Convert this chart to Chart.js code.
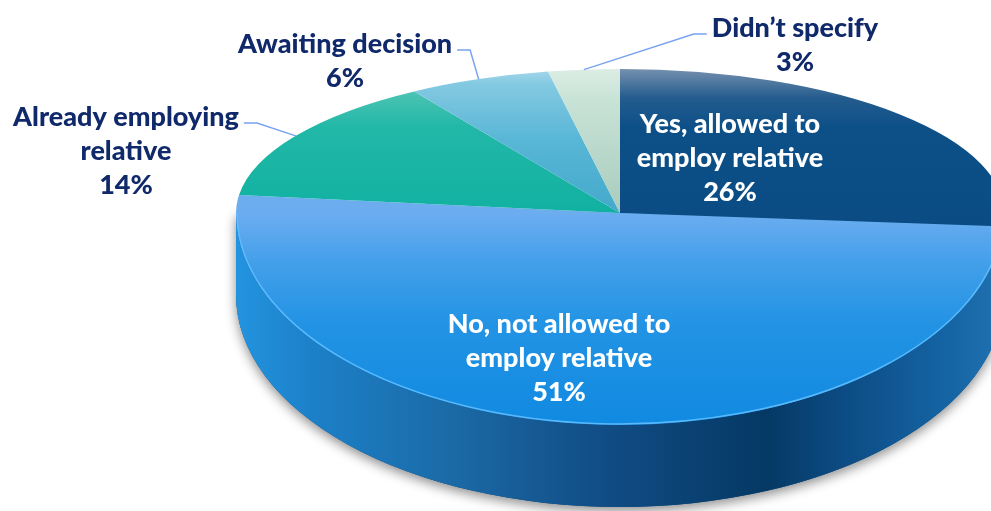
<!DOCTYPE html>
<html>
<head>
<meta charset="utf-8">
<script src="https://cdn.jsdelivr.net/npm/chart.js@4.4.1/dist/chart.umd.min.js"></script>
<style>
  html, body { margin: 0; padding: 0; background: #fff; }
  #wrap { width: 991px; height: 511px; }
</style>
</head>
<body>
<div id="wrap"><canvas id="relativePie" width="991" height="511"></canvas></div>
<script>
// survey answers, clockwise from 12 o'clock
const categories = [
  ["Yes, allowed to", "employ relative"],
  ["No, not allowed to", "employ relative"],
  ["Already employing", "relative"],
  ["Awaiting decision"],
  ["Didn\u2019t specify"]
];
const shares = [26, 51, 14, 6, 3];
const percentLabels = shares.map(v => v + "%");

// top face shading per slice (0 = far rim, 0.5 = hub, 1 = near rim)
const faceStops = [
  [[0, "#7590ae"], [0.1, "#245c8e"], [0.2, "#0d5088"], [0.5, "#0a4c83"], [1, "#03457a"]],
  [[0, "#6aa9ec"], [0.5, "#6cadf0"], [0.62, "#429fea"], [0.76, "#2393e4"], [1, "#108ae1"]],
  [[0, "#8fd6c9"], [0.08, "#4cc3b3"], [0.2, "#22b8a8"], [0.5, "#11b1a1"], [1, "#11b1a1"]],
  [[0, "#a9d8ea"], [0.05, "#84c9e2"], [0.25, "#58b6d6"], [0.5, "#44a9cb"], [1, "#44a9cb"]],
  [[0, "#dbede4"], [0.1, "#c9e3d7"], [0.5, "#a7ccbd"], [1, "#a7ccbd"]]
];
// wall shading, left to right across the pie
const sideStops = [
  [[0, "#0a4578"], [1, "#05385f"]],
  [[0, "#2394e0"], [0.1, "#1c80c8"], [0.28, "#1b6aa6"], [0.48, "#114c85"], [0.69, "#053964"], [0.8, "#0d4d86"], [0.93, "#1565a5"], [1, "#2272b2"]],
  [[0, "#0c8c80"], [1, "#0c8c80"]],
  [[0, "#2f86a6"], [1, "#2f86a6"]],
  [[0, "#86ab9c"], [1, "#86ab9c"]]
];

// tilted-disc geometry on the page
const PIE = { cx: 620, cy: 213, rx: 384, ryBack: 144, ryFront: 212, depth: 82 };

// text block centres
const labelPlace = [
  { inside: true, x: 730, y: 158 },
  { inside: true, x: 559, y: 358 },
  { inside: false, x: 126, y: 151 },
  { inside: false, x: 345, y: 61 },
  { inside: false, x: 795, y: 45 }
];
const LINE = 34;
const FONT = "900 27px Lato";

function faceFill(c) {
  const chart = c.chart;
  const area = chart.chartArea;
  if (!area) return faceStops[c.dataIndex][2][1];
  const r = Math.min(area.right - area.left, area.bottom - area.top) / 2;
  const cy = (area.top + area.bottom) / 2;
  const g = chart.ctx.createLinearGradient(0, cy - r, 0, cy + r);
  faceStops[c.dataIndex].forEach(([t, col]) => g.addColorStop(t, col));
  return g;
}

function rimPoint(a) {
  const s = Math.sin(a);
  const ry = s < 0 ? PIE.ryBack : PIE.ryFront;
  return { x: PIE.cx + PIE.rx * Math.cos(a), y: PIE.cy + ry * s };
}

function drawSide(ctx, arcs) {
  const { cx, cy, rx, ryFront: ry, depth } = PIE;

  ctx.save();
  ctx.shadowColor = "rgba(0,0,0,0.45)";
  ctx.shadowBlur = 12;
  ctx.shadowOffsetY = 4;
  ctx.beginPath();
  ctx.ellipse(cx, cy + depth, rx, ry, 0, 0, Math.PI);
  ctx.lineTo(cx - rx, cy);
  ctx.lineTo(cx + rx, cy);
  ctx.closePath();
  ctx.fillStyle = "#0b4a80";
  ctx.fill();
  ctx.restore();

  arcs.forEach((arc, i) => {
    [-2 * Math.PI, 0, 2 * Math.PI].forEach(shift => {
      const lo = Math.max(arc.startAngle + shift, 0);
      const hi = Math.min(arc.endAngle + shift, Math.PI);
      if (hi <= lo) return;
      const g = ctx.createLinearGradient(cx - rx, 0, cx + rx, 0);
      sideStops[i].forEach(([t, col]) => g.addColorStop(t, col));
      ctx.beginPath();
      ctx.ellipse(cx, cy, rx, ry, 0, lo, hi);
      ctx.lineTo(cx + rx * Math.cos(hi), cy + depth + ry * Math.sin(hi));
      ctx.ellipse(cx, cy + depth, rx, ry, 0, hi, lo, true);
      ctx.closePath();
      ctx.fillStyle = g;
      ctx.fill();
    });
  });
}

const pie3d = {
  id: "pie3d",
  beforeDatasetsDraw(chart) {
    const ctx = chart.ctx;
    const arcs = chart.getDatasetMeta(0).data;
    const { x, y, outerRadius: R } = arcs[0];

    drawSide(ctx, arcs);

    // top face: far half flatter than near half
    [[0, PIE.cy + 0.5, PIE.ryBack], [PIE.cy - 0.5, chart.height, PIE.ryFront]].forEach(([y0, y1, ry]) => {
      ctx.save();
      ctx.beginPath();
      ctx.rect(0, y0, chart.width, y1 - y0);
      ctx.clip();
      ctx.translate(PIE.cx, PIE.cy);
      ctx.scale(PIE.rx / R, ry / R);
      ctx.translate(-x, -y);
      arcs.forEach(a => a.draw(ctx));
      ctx.restore();
    });

    // light edge along the front rim
    ctx.save();
    ctx.beginPath();
    ctx.ellipse(PIE.cx, PIE.cy, PIE.rx - 1, PIE.ryFront - 1, 0, 0.05, Math.PI);
    ctx.strokeStyle = "rgba(95,190,255,0.9)";
    ctx.lineWidth = 1.5;
    ctx.stroke();
    ctx.restore();
    return false;
  },
  afterDraw(chart) {
    const ctx = chart.ctx;
    const arcs = chart.getDatasetMeta(0).data;
    ctx.save();
    ctx.font = FONT;
    ctx.textAlign = "center";
    ctx.textBaseline = "middle";
    arcs.forEach((arc, i) => {
      const p = labelPlace[i];
      const lines = [...categories[i], percentLabels[i]];
      const top = p.y - (lines.length - 1) * LINE / 2;
      ctx.fillStyle = p.inside ? "#ffffff" : "#10296b";
      lines.forEach((t, k) => ctx.fillText(t, p.x, top + k * LINE));
      if (p.inside) return;

      const edge = rimPoint((arc.startAngle + arc.endAngle) / 2);
      const half = ctx.measureText(lines[0]).width / 2;
      const dir = edge.x > p.x ? 1 : -1;
      const sx = p.x + dir * (half + 5);
      const sy = top + 6;
      ctx.beginPath();
      ctx.moveTo(sx, sy);
      ctx.lineTo(sx + dir * 13, sy);
      ctx.lineTo(edge.x, edge.y);
      ctx.strokeStyle = "#79a3f0";
      ctx.lineWidth = 1.5;
      ctx.stroke();
    });
    ctx.restore();
  }
};

new Chart(document.getElementById("relativePie"), {
  type: "pie",
  data: {
    labels: categories,
    datasets: [{ data: shares, backgroundColor: faceFill, borderWidth: 0 }]
  },
  options: {
    responsive: false,
    animation: false,
    events: [],
    plugins: { legend: { display: false }, tooltip: { enabled: false } }
  },
  plugins: [pie3d]
});
</script>
</body>
</html>
